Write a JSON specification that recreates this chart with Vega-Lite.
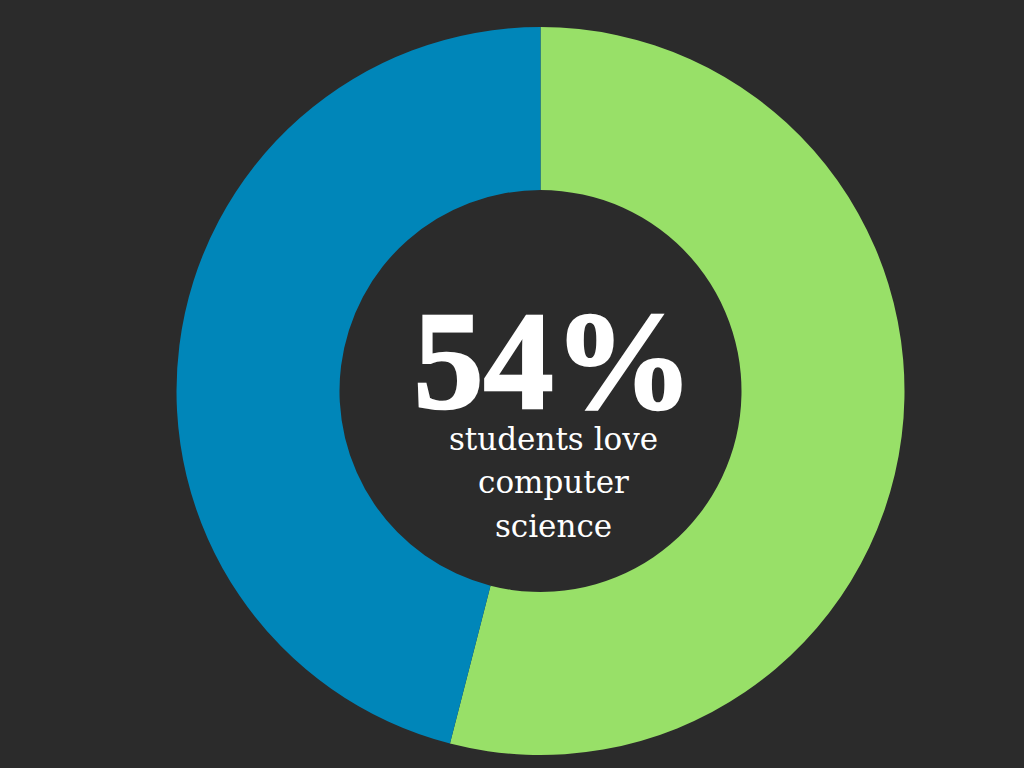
{
  "$schema": "https://vega.github.io/schema/vega-lite/v6.json",
  "width": 967,
  "height": 754,
  "padding": {"left": 57, "top": 14, "right": 0, "bottom": 0},
  "background": "#2b2b2b",
  "config": {"view": {"stroke": null}},
  "datasets": {
    "slices": [
      {"category": "love computer science", "value": 54, "idx": 1},
      {"category": "other", "value": 46, "idx": 2}
    ]
  },
  "layer": [
    {
      "data": {"name": "slices"},
      "mark": {"type": "arc", "outerRadius": 364, "innerRadius": 201},
      "encoding": {
        "theta": {"field": "value", "type": "quantitative", "stack": true},
        "order": {"field": "idx", "type": "quantitative"},
        "color": {
          "field": "category",
          "type": "nominal",
          "scale": {"domain": ["love computer science", "other"], "range": ["#98e068", "#0086b9"]},
          "legend": null
        }
      }
    },
    {
      "data": {"values": [{"label": "54%"}]},
      "mark": {"type": "text", "font": "Liberation Serif", "fontWeight": 700, "fontSize": 140, "color": "#ffffff", "stroke": "#ffffff", "strokeWidth": 2.5, "baseline": "alphabetic", "align": "center", "dx": 13, "dy": 17},
      "encoding": {"text": {"field": "label"}}
    },
    {
      "data": {"values": [{"label": "students love"}]},
      "mark": {"type": "text", "font": "DejaVu Serif", "fontSize": 31, "color": "#ffffff", "baseline": "alphabetic", "align": "center", "dx": 13, "dy": 59},
      "encoding": {"text": {"field": "label"}}
    },
    {
      "data": {"values": [{"label": "computer"}]},
      "mark": {"type": "text", "font": "DejaVu Serif", "fontSize": 31, "color": "#ffffff", "baseline": "alphabetic", "align": "center", "dx": 13, "dy": 102},
      "encoding": {"text": {"field": "label"}}
    },
    {
      "data": {"values": [{"label": "science"}]},
      "mark": {"type": "text", "font": "DejaVu Serif", "fontSize": 31, "color": "#ffffff", "baseline": "alphabetic", "align": "center", "dx": 13, "dy": 146},
      "encoding": {"text": {"field": "label"}}
    }
  ]
}
